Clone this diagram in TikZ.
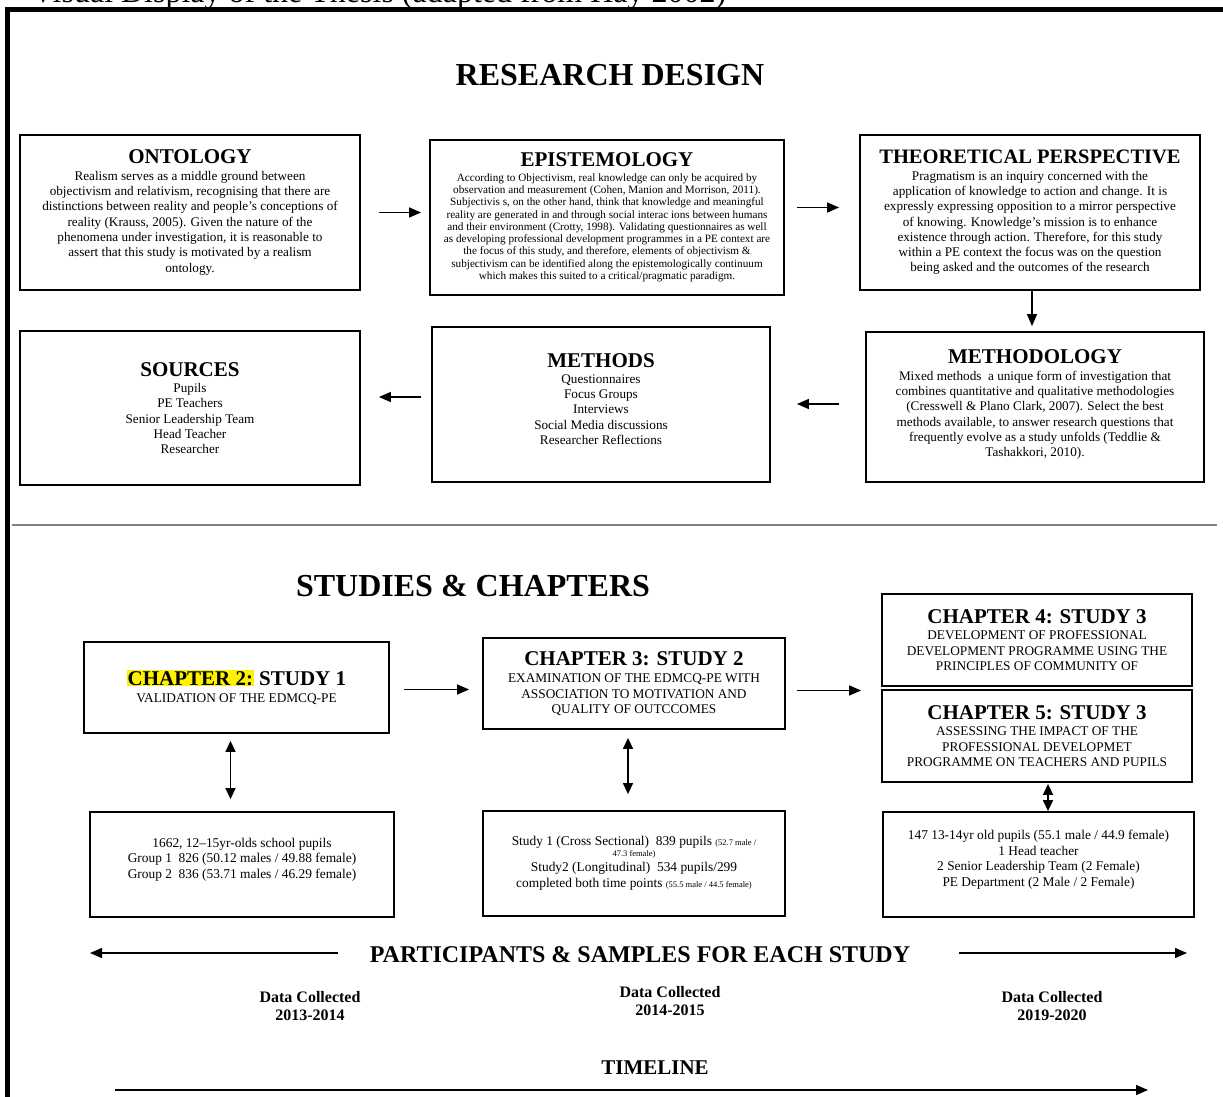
\documentclass[tikz,border=0pt]{standalone}
\usepackage{fontspec}
\setmainfont{Liberation Serif}
\usepackage{xcolor}
\usetikzlibrary{arrows.meta, positioning}

\newcommand{\boxtitle}[1]{{\fontsize{21}{22}\selectfont\bfseries #1}}
\newcommand{\chaptitle}[1]{{\fontsize{21}{22}\selectfont\bfseries #1}}
\newcommand{\tinynote}[1]{{\fontsize{8.5}{9}\selectfont #1}}

\begin{document}
\begin{tikzpicture}[x=1pt, y=-1pt,
	box/.style={draw, line width=1.8pt, align=center, inner sep=0pt,
		font=\fontsize{13.2}{15.3}\selectfont},
	chapbox/.style={box, minimum width=305pt, minimum height=91pt,
		font=\fontsize{13.3}{15.5}\selectfont},
	databox/.style={box, minimum height=105pt, font=\fontsize{13.4}{15.5}\selectfont},
	bighead/.style={font=\fontsize{32}{34}\selectfont\bfseries},
	arr/.style={-{Triangle[length=12pt, width=10pt]}, line width=1.4pt},
	dblarr/.style={{Triangle[length=11pt, width=10pt]}-{Triangle[length=11pt, width=10pt]}, line width=1.4pt}
	]
	\useasboundingbox (0,0) rectangle (1223,1097);
	% page heading and frame
	\node[anchor=base west, font=\fontsize{32}{34}\selectfont] (pagetitle) at (28,3)
		{Visual Display of the Thesis (adapted from Hay 2002)};
	\draw[line width=5pt] (7,1110) -- (7,9.5) -- (1230,9.5);

	% research design
	\node[bighead] (design) at (610,75) {RESEARCH DESIGN};
	\node[box, minimum width=340pt, minimum height=155pt] (onto) at (190,212.5)
		{\boxtitle{ONTOLOGY}\\[1pt]
		Realism serves as a middle ground between\\
		objectivism and relativism, recognising that there are\\
		distinctions between reality and people's conceptions of\\
		reality (Krauss, 2005). Given the nature of the\\
		phenomena under investigation, it is reasonable to\\
		assert that this study is motivated by a realism\\
		ontology.};
	\node[box, minimum width=354pt, minimum height=155pt, font=\fontsize{11.2}{12.3}\selectfont] (epist) at (607,217.5)
		{\boxtitle{EPISTEMOLOGY}\\[2pt]
		According to Objectivism, real knowledge can only be acquired by\\
		observation and measurement (Cohen, Manion and Morrison, 2011).\\
		Subjectivis s, on the other hand, think that knowledge and meaningful\\
		reality are generated in and through social interac ions between humans\\
		and their environment (Crotty, 1998). Validating questionnaires as well\\
		as developing professional development programmes in a PE context are\\
		the focus of this study, and therefore, elements of objectivism \&\\
		subjectivism can be identified along the epistemologically continuum\\
		which makes this suited to a critical/pragmatic paradigm.};
	\node[box, minimum width=340pt, minimum height=155pt] (theory) at (1030,212.5)
		{{\fontsize{20.5}{22}\selectfont\bfseries THEORETICAL PERSPECTIVE}\\[1pt]
		Pragmatism is an inquiry concerned with the\\
		application of knowledge to action and change. It is\\
		expressly expressing opposition to a mirror perspective\\
		of knowing. Knowledge's mission is to enhance\\
		existence through action. Therefore, for this study\\
		within a PE context the focus was on the question\\
		being asked and the outcomes of the research};
	\node[box, minimum width=340pt, minimum height=154pt] (sources) at (190,408)
		{\boxtitle{SOURCES}\\[1pt]
		Pupils\\ PE Teachers\\ Senior Leadership Team\\ Head Teacher\\ Researcher};
	\node[box, minimum width=338pt, minimum height=155pt] (methods) at (601,404.5)
		{\boxtitle{METHODS}\\[1pt]
		Questionnaires\\ Focus Groups\\ Interviews\\ Social Media discussions\\ Researcher Reflections\\[-4pt]};
	\node[box, minimum width=338pt, minimum height=150pt] (methodology) at (1035,407)
		{\boxtitle{METHODOLOGY}\\[1pt]
		Mixed methods\ \ a unique form of investigation that\\
		combines quantitative and qualitative methodologies\\
		(Cresswell \& Plano Clark, 2007). Select the best\\
		methods available, to answer research questions that\\
		frequently evolve as a study unfolds (Teddlie \&\\
		Tashakkori, 2010).\\[-8pt]};

	\draw[arr, shorten <=18pt, shorten >=8pt] (onto.east) -- (onto.east -| epist.west);
	\draw[arr, shorten <=12pt, shorten >=20pt] ([yshift=10pt]epist.east) -- ([yshift=10pt]epist.east -| theory.west);
	\draw[arr, shorten >=5pt] ([xshift=2pt]theory.south) -- ([xshift=2pt]theory.south |- methodology.north);
	\draw[arr, shorten <=26pt, shorten >=26pt] ([yshift=3pt]methodology.west) -- ([yshift=3pt]methodology.west -| methods.east);
	\draw[arr, shorten <=10pt, shorten >=18pt] ([yshift=7.5pt]methods.west) -- ([yshift=7.5pt]methods.west -| sources.east);

	\draw[gray, line width=1.2pt] (12,525) -- (1217,525);

	% studies and chapters
	\node[bighead] (studies) at (473,586) {STUDIES \& CHAPTERS};
	\node[chapbox] (ch2) at (236.5,687.5)
		{\chaptitle{{\setlength{\fboxsep}{0.8pt}\colorbox{yellow}{CHAPTER 2:}} STUDY 1}\\[2pt]
		VALIDATION OF THE EDMCQ-PE};
	\node[chapbox, minimum width=302pt] (ch3) at (634,683.5)
		{\chaptitle{CHAPTER 3: STUDY 2}\\[2pt]
		EXAMINATION OF THE EDMCQ-PE WITH\\
		ASSOCIATION TO MOTIVATION AND\\
		QUALITY OF OUTCCOMES};
	\node[chapbox, minimum width=310pt, minimum height=92pt] (ch4) at (1037,640)
		{\chaptitle{CHAPTER 4: STUDY 3}\\[1pt]
		DEVELOPMENT OF PROFESSIONAL\\
		DEVELOPMENT PROGRAMME USING THE\\
		PRINCIPLES OF COMMUNITY OF};
	\node[chapbox, minimum width=310pt, minimum height=92pt] (ch5) at (1037,736)
		{\chaptitle{CHAPTER 5: STUDY 3}\\[1pt]
		ASSESSING THE IMPACT OF THE\\
		PROFESSIONAL DEVELOPMET\\
		PROGRAMME ON TEACHERS AND PUPILS};

	\draw[arr, shorten <=14pt, shorten >=13pt] ([yshift=-2pt]ch2.east) -- ([yshift=-2pt]ch2.east -| ch3.west);
	\draw[arr, shorten <=11pt, shorten >=20pt] ([yshift=-7pt]ch3.east) -- ([yshift=-7pt]ch3.east -| ch5.west);

	% samples
	\node[databox, minimum width=304pt] (data1) at (242,864.5)
		{1662, 12--15yr-olds school pupils\\
		Group 1\ \ 826 (50.12 males / 49.88 female)\\
		Group 2\ \ 836 (53.71 males / 46.29 female)\\[-3pt]};
	\node[databox, minimum width=302pt] (data2) at (634,863.5)
		{Study 1 (Cross Sectional)\ \ 839 pupils \tinynote{(52.7 male /}\\[-5pt]
		\tinynote{47.3 female)}\\
		Study2 (Longitudinal)\ \ 534 pupils/299\\
		completed both time points \tinynote{(55.5 male / 44.5 female)}};
	\node[databox, minimum width=311pt] (data3) at (1038.5,864.5)
		{147 13-14yr old pupils (55.1 male / 44.9 female)\\
		1 Head teacher\\
		2 Senior Leadership Team (2 Female)\\
		PE Department (2 Male / 2 Female)\\[-3pt]};

	\draw[dblarr, shorten <=7pt, shorten >=12pt] ([xshift=-6pt]ch2.south) -- ([xshift=-6pt]ch2.south |- data1.north);
	\draw[dblarr, shorten <=8pt, shorten >=16pt] ([xshift=-6pt]ch3.south) -- ([xshift=-6pt]ch3.south |- data2.north);
	\draw[dblarr, shorten <=1pt, shorten >=0pt] ([xshift=11pt]ch5.south) -- ([xshift=11pt]ch5.south |- data3.north);

	% participants and timeline
	\node[font=\fontsize{24}{26}\selectfont\bfseries] (partic) at (640,955) {PARTICIPANTS \& SAMPLES FOR EACH STUDY};
	\coordinate (pleft) at (90,953);
	\coordinate (pright) at (1187,953);
	\draw[arr] ([xshift=-28pt, yshift=2pt]partic.west) -- (pleft);
	\draw[arr] ([xshift=45pt, yshift=2pt]partic.east) -- (pright);

	\node[align=center, font=\fontsize{16}{18}\selectfont\bfseries] (year1) at (310,1006) {Data Collected\\2013-2014};
	\node[align=center, font=\fontsize{16}{18}\selectfont\bfseries] (year2) at (670,1001) {Data Collected\\2014-2015};
	\node[align=center, font=\fontsize{16}{18}\selectfont\bfseries] (year3) at (1052,1006) {Data Collected\\2019-2020};

	\node[font=\fontsize{21}{22}\selectfont\bfseries] (timeline) at (655,1068) {TIMELINE};
	\coordinate (tstart) at (115,1090);
	\coordinate (tend) at (1148,1090);
	\draw[arr] (tstart) -- (tend);
\end{tikzpicture}
\end{document}
